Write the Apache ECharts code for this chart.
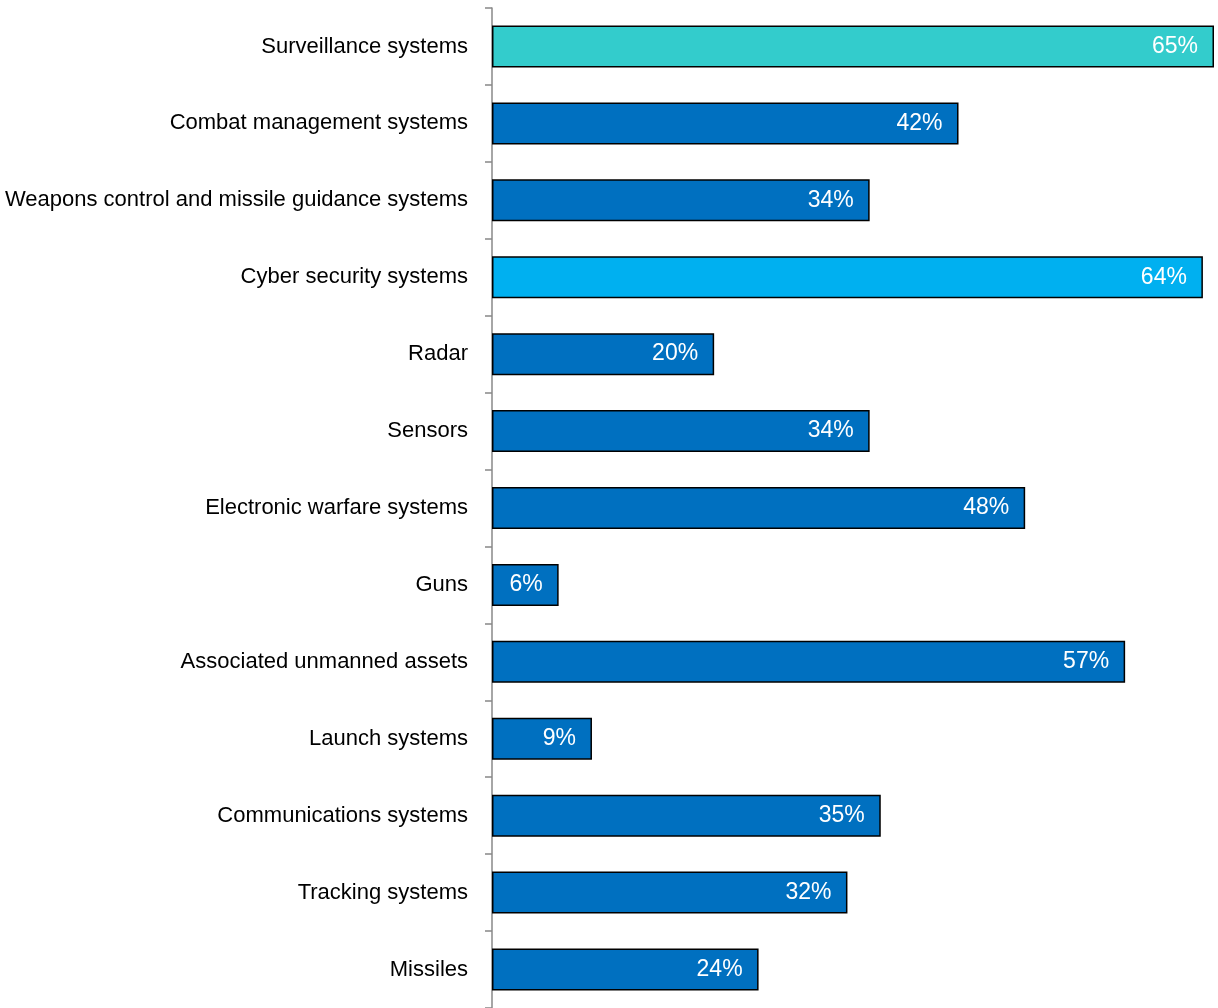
<!DOCTYPE html>
<html>
<head>
<meta charset="utf-8">
<script src="https://cdn.jsdelivr.net/npm/echarts@6/dist/echarts.min.js"></script>
<style>
  html, body { margin: 0; padding: 0; background: #fff; }
  #chart { width: 1218px; height: 1008px; }
</style>
</head>
<body>
<div id="chart"></div>
<script>
// categories, top to bottom
const categories = [
  "Surveillance systems",
  "Combat management systems",
  "Weapons control and missile guidance systems",
  "Cyber security systems",
  "Radar",
  "Sensors",
  "Electronic warfare systems",
  "Guns",
  "Associated unmanned assets",
  "Launch systems",
  "Communications systems",
  "Tracking systems",
  "Missiles"
];
const shares = [65, 42, 34, 64, 20, 34, 48, 6, 57, 9, 35, 32, 24];
const barColors = [
  "#33CCCC", "#0070C0", "#0070C0", "#00B0F0", "#0070C0", "#0070C0", "#0070C0",
  "#0070C0", "#0070C0", "#0070C0", "#0070C0", "#0070C0", "#0070C0"
];

const font = "'Liberation Sans Narrow', 'Arial Narrow', 'Liberation Sans', sans-serif";

const chart = echarts.init(document.getElementById("chart"));
chart.setOption({
  animation: false,
  grid: { left: 492, right: 4, top: 8, bottom: 0, containLabel: false, outerBoundsMode: "none" },
  xAxis: {
    type: "value",
    min: 0,
    max: 65,
    show: false
  },
  yAxis: {
    type: "category",
    inverse: true,
    data: categories,
    axisLine: { lineStyle: { color: "#888", width: 1.5 } },
    axisTick: { show: true, length: 7, lineStyle: { color: "#888", width: 1.5 } },
    axisLabel: { color: "#000", fontSize: 22, fontFamily: font, margin: 24 }
  },
  series: [{
    type: "bar",
    barWidth: 42,
    data: shares.map((v, i) => ({ value: v, itemStyle: { color: barColors[i] } })),
    itemStyle: { borderColor: "#000", borderWidth: 1.5 },
    label: {
      show: true,
      position: "insideRight",
      distance: 16,
      color: "#fff",
      fontSize: 23,
      fontFamily: font,
      formatter: p => p.value + "%"
    }
  }]
});
</script>
</body>
</html>
